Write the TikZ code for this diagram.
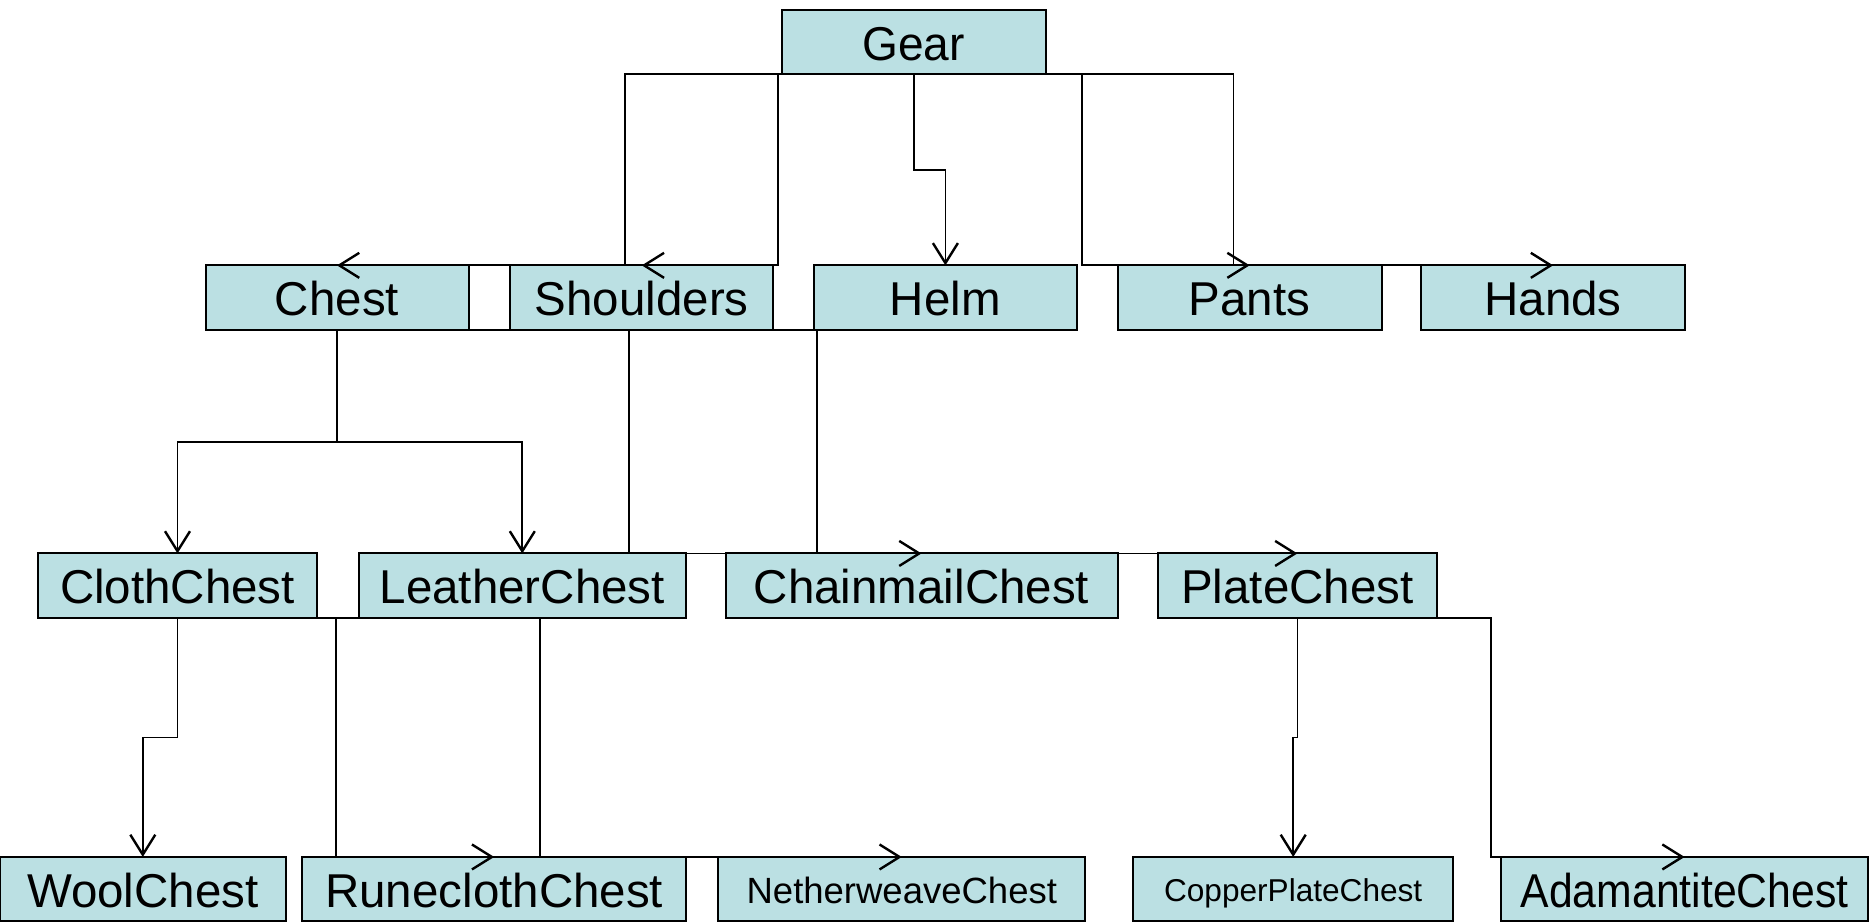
\documentclass[tikz,border=0pt]{standalone}
\usepackage{fontspec}
\setmainfont{Liberation Sans}
\usetikzlibrary{arrows.meta,calc}
\definecolor{boxfill}{RGB}{187,224,227}
\tikzset{
  box/.style={draw=black, line width=2pt, fill=boxfill, inner sep=0pt, outer sep=0pt,
    minimum height=64.5pt, font=\fontsize{47.5}{52}\selectfont,
    text height=36.5pt, text depth=0pt},
  midbox/.style={box, font=\fontsize{36.5}{40}\selectfont, text height=28pt},
  smallbox/.style={box, font=\fontsize{31.6}{35}\selectfont, text height=24.2pt},
  conn/.style={draw=black, line width=1.8pt,
    -{Straight Barb[length=20pt,width=25pt,line width=2.4pt]}},
}
\begin{document}
\begin{tikzpicture}[x=1pt,y=-1pt]
\useasboundingbox (0,0) rectangle (1874,923);

% level 0
\node[box, minimum width=264pt] (gear) at (913.7,41.8) {\scalebox{0.97}[1]{Gear}};

% level 1
\node[box, minimum width=263pt] (chest)     at (337.0,297.6)  {Chest};
\node[box, minimum width=263pt] (shoulders) at (641.8,297.6)  {Shoulders};
\node[box, minimum width=263pt] (helm)      at (945.4,297.6)  {Helm};
\node[box, minimum width=264pt] (pants)     at (1249.6,297.6) {Pants};
\node[box, minimum width=264pt] (hands)     at (1553.1,297.6) {Hands};

% level 2
\node[box, minimum width=278.5pt] (cloth)     at (177.5,585.7)  {ClothChest};
\node[box, minimum width=327.5pt] (leather)   at (522.3,585.7)  {LeatherChest};
\node[box, minimum width=392pt]   (chainmail) at (921.5,585.7)  {ChainmailChest};
\node[box, minimum width=278.5pt] (plate)     at (1297.4,585.7) {PlateChest};

% level 3
\node[box, minimum width=285.7pt]      (wool)        at (142.8,889.2)  {WoolChest};
\node[box, minimum width=383.6pt]      (runecloth)   at (494.2,889.2)  {RuneclothChest};
\node[midbox, minimum width=366.9pt]   (netherweave) at (901.8,889.2)  {NetherweaveChest};
\node[smallbox, minimum width=320.3pt] (copper)      at (1293.2,889.2) {CopperPlateChest};
\node[box, minimum width=366.9pt]      (adamantite)  at (1684.6,889.2) {\scalebox{0.9}[1]{AdamantiteChest}};

% elbow connectors that leave along the bottom edge
\foreach \a/\b in {gear/chest, gear/shoulders, gear/pants, gear/hands,
                   chest/chainmail, chest/plate,
                   cloth/runecloth, cloth/netherweave, plate/adamantite}
  \draw[conn] (\a.south) -| ($(\a.south)!.5!(\b.north)$) |- (\b.north);

% elbow connectors that drop straight down first
\foreach \a/\b in {gear/helm, chest/cloth, chest/leather, cloth/wool, plate/copper}
  \draw[conn] (\a.south) |- ($(\a.south)!.5!(\b.north)$) -| (\b.north);
\end{tikzpicture}
\end{document}
